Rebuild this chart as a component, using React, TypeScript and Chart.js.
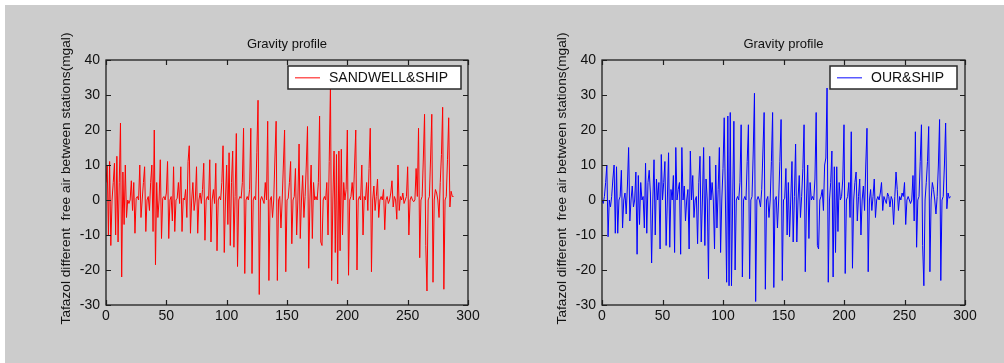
import React, { useEffect, useRef } from 'react';
import { Chart, registerables } from 'chart.js';

Chart.register(...registerables);

// Difference of free-air gravity between consecutive stations (mgal)
const sandwellShip: number[] = [
  5, 10, -10, 11, -13, 0, 5, 10.5, -10, 12.5,
  -12, 5, 22, -22, 8, -7, 10, -5, 0, -1,
  0, 5.5, -3, 5, -9.5, 0.5, 1, 0, 10, -5,
  0, 5, 9.5, -9, 0, 1, -3, 5, 10, -9,
  20, -18.5, 5, -5, 0, 11.5, -11, 0.5, 1, 0,
  2, 11, -11, 0, 1, -6, 9.5, -9, 0, 0.5,
  5, -1, 9.5, -9, 0.5, 0, 3, -5, 11, 15.5,
  -9.5, 0, 5, -3, 0, 9.5, -9.5, 0, 2, -1,
  3, 10.5, -11.5, 0, 1, 0, 11.5, -12, 0, 3,
  -1, 10.5, -14.5, 0, 1, 0, 5, 15.5, -15, 0,
  10, -7, 13.5, -13, 5, 14, -13.5, 1, 19, -19,
  0, 1, 0.5, 5, 20.5, -21, 0, 1, 0, 3,
  20.5, -21, 0, 1, 0, 13.5, 28.5, -27, 0, 1,
  0, -1, 5, 0, 22.5, -23, 0, 1, -5, 0,
  12, 22.5, -23, 0, 1, -8, 0, 10, 20, -20.5,
  0, 0.5, 5, 11, -12.5, 0, 1, 9, -10, 0,
  16, -11, 0, 7, -5, 1, 10, 21, -19.5, 0,
  10, -11, 5, 0, 1, 0, 5, 24, -12, -13,
  0, 1, 0, 5, -10, 11, 33, -23, 0, 14,
  -15, 13, -24, 14, -14.5, 14.5, -10, 5, 0, 3,
  20, -21.5, 0, 1, 5, 0, 10, 20, -20, 0,
  1, 0, 10, -10, 1, 0, 5, -3, 9, 20.5,
  -20.5, 0, 4, -3, 1, 6, -5, 0, 1, 0,
  3, -8.5, 0, 1, -1, 0, 2, 5.5, -2, 1,
  0, -5.5, 10, -3, 1, 0, 2, -1, 0, 1,
  9.5, -10, 0, 1, 0, -0.5, 0, 9, 1, 20.5,
  -16.5, 0, 1, 12, 24.5, -13, -26, 0, 1, 12,
  24.5, -23.5, 0, 3, 2, 0, -5, 5, 13, 26.5,
  -25.5, 0, 1, 11.5, 23.5, -2, 2.5, 1, 1,
];

const ourShip: number[] = [
  0, -1, 1, 5, 10, -10.5, 0, -2, 1, 6,
  10, -9.5, 9.5, -9.5, 0, 1, 8.5, -8, 0, 2,
  -4, 4, 15, -6, 0, 4, -2, 0, 8, -15.5,
  7, -7, 5, 0, 1, -8, 10.5, -9.5, 5, 8.5,
  2, -18, 0, 11.5, -10, 6, 0, 5, -14, 13,
  0, 5, 11, -13, 0, 13.5, -13.5, 3, 0, 7,
  -15, 15, 0, 3, 5, -15.5, 15, 0, 4, -6,
  0, 3, -14, 14, 0, 7, -5, 0, 1, -12.5,
  5, 12.5, -12, 0, 15, -13, 6, 0, -22.5, 12.5,
  0, 5, 0, -14, 10, -8, 3, 15, -15, 0,
  9, 23.5, 0, -23.5, 24, -24.5, 25, -24.5, 0, 22.5,
  -20, 0, 1, 0, 5, 21.5, -22, 0, 1, 0,
  11, 21.5, -22.5, 0, 1, 14, 30.5, -29, 0, 1,
  0, -2, 3, 14, 25, -25.5, 0, 1, -5, 0,
  11, 25, -25, 0, 1, -8, 0, 11, 23, -23,
  0, 0.5, 9, -10, 5, -10.5, 0, 11, -12, 1,
  16, -12, 0, 7, -5, 1, 9, 21.5, -20.5, 0,
  10, -11, 5, 0, 1, 0, 6, 25, -13, -14,
  0, 1, 3, -3, 10, 12, 32, -23.5, 0, 5,
  14, -22, 9.5, -15, 9.5, -9, 5, 0, 1, 6,
  21.5, -21, 0, 1, 5, -5, 19.5, -19.5, 0, 5,
  8, -6, 1, 6, -10, 0, 4, -3, 10, 20.5,
  -20.5, 0, 3, -3, 1, 6, -5, 0, 1, 0,
  2, 5, -3, 1, 0, -1, 2, 1, -2, 1,
  0, -7, 1, 8, 3, -3, 1, 0, 2, 1,
  5, -7, 0, 1, 0, -1, 0, 7, -6, 19.5,
  -13.5, 0, 1, 11, 21.5, -13, -24.5, 0, 5, 11,
  21, -20.5, 0, 5, 3, 0, -4, 1, 10, 23,
  -23, 0, 1, 10, 22, -2.5, 2, 0.5, 1,
];

const stationIndex: number[] = sandwellShip.map((_, i) => i);

const xTicks: number[] = [0, 50, 100, 150, 200, 250, 300];
const yTicks: number[] = [-30, -20, -10, 0, 10, 20, 30, 40];

const titleText = 'Gravity profile';
const yLabelText = 'Tafazol different  free air between stations(mgal)';

const FONT = '"Liberation Sans", Arial, Helvetica, sans-serif';

type PlotBox = { left: number; top: number; right: number; bottom: number };

function makeDecorPlugin(seriesLabel: string, sampleColor: string, legendRightGap: number) {
  return {
    id: 'matlabDecor',
    afterDraw(chart: any) {
      const { ctx, chartArea: a, scales } = chart;
      ctx.save();
      // frame
      ctx.strokeStyle = '#1e1e1e';
      ctx.lineWidth = 1.3;
      ctx.strokeRect(a.left, a.top, a.right - a.left, a.bottom - a.top);
      // inward ticks
      ctx.lineWidth = 1.2;
      const tl = 5;
      ctx.beginPath();
      for (const v of xTicks) {
        const px = Math.round(scales.x.getPixelForValue(v)) + 0.5;
        ctx.moveTo(px, a.bottom);
        ctx.lineTo(px, a.bottom - tl);
        ctx.moveTo(px, a.top);
        ctx.lineTo(px, a.top + tl);
      }
      for (const v of yTicks) {
        const py = Math.round(scales.y.getPixelForValue(v)) + 0.5;
        ctx.moveTo(a.left, py);
        ctx.lineTo(a.left + tl, py);
        ctx.moveTo(a.right, py);
        ctx.lineTo(a.right - tl, py);
      }
      ctx.stroke();
      // title
      ctx.fillStyle = '#111';
      ctx.font = `13px ${FONT}`;
      ctx.textAlign = 'center';
      ctx.textBaseline = 'alphabetic';
      ctx.fillText(titleText, (a.left + a.right) / 2, a.top - 12);
      // y label
      ctx.save();
      ctx.translate(a.left - 40, (a.top + a.bottom) / 2 - 4);
      ctx.rotate(-Math.PI / 2);
      ctx.font = `13.7px ${FONT}`;
      ctx.textBaseline = 'middle';
      ctx.textAlign = 'center';
      ctx.fillText(yLabelText, 0, 0);
      ctx.restore();
      // legend
      ctx.font = `14px ${FONT}`;
      const tw = ctx.measureText(seriesLabel).width;
      const bw = Math.round(41 + tw + 13);
      const bh = 23;
      const bx = Math.round(a.right - legendRightGap - bw);
      const by = Math.round(a.top + 6);
      ctx.fillStyle = '#ffffff';
      ctx.fillRect(bx, by, bw, bh);
      ctx.strokeStyle = '#2a2a2a';
      ctx.lineWidth = 1.5;
      ctx.strokeRect(bx, by, bw, bh);
      ctx.fillStyle = sampleColor;
      ctx.fillRect(bx + 7, by + 11, 25, 1.5);
      ctx.fillStyle = '#111';
      ctx.textAlign = 'left';
      ctx.textBaseline = 'middle';
      ctx.fillText(seriesLabel, bx + 41, by + 12);
      ctx.restore();
    },
  };
}

function GravityChart(props: {
  values: number[];
  color: string;
  sampleColor: string;
  seriesLabel: string;
  width: number;
  height: number;
  plot: PlotBox;
  legendRightGap: number;
  style: React.CSSProperties;
}) {
  const ref = useRef<HTMLCanvasElement | null>(null);
  useEffect(() => {
    const canvas = ref.current;
    if (!canvas) return;
    const { width: W, height: H, plot } = props;
    const X_AXIS_H = 30;
    const chart = new Chart(canvas, {
      type: 'line',
      data: {
        datasets: [
          {
            label: props.seriesLabel,
            data: props.values.map((v, i) => ({ x: stationIndex[i], y: v })),
            borderColor: props.color,
            borderWidth: 1,
            pointRadius: 0,
            tension: 0,
            fill: false,
          },
        ],
      },
      options: {
        responsive: false,
        animation: false,
        devicePixelRatio: 1,
        layout: {
          padding: {
            left: 0,
            top: plot.top,
            right: W - plot.right,
            bottom: H - plot.bottom - X_AXIS_H,
          },
        },
        plugins: {
          legend: { display: false },
          tooltip: { enabled: false },
          title: { display: false },
        },
        scales: {
          x: {
            type: 'linear',
            min: xTicks[0],
            max: xTicks[xTicks.length - 1],
            afterBuildTicks: (s: any) => {
              s.ticks = xTicks.map((v) => ({ value: v }));
            },
            afterFit: (s: any) => {
              s.height = X_AXIS_H;
            },
            grid: { display: false, drawTicks: false, tickLength: 0 },
            border: { display: false },
            ticks: {
              autoSkip: false,
              maxRotation: 0,
              padding: 3,
              color: '#111',
              font: { family: FONT, size: 14 },
              callback: (v: any) => String(v),
            },
          },
          y: {
            type: 'linear',
            min: yTicks[0],
            max: yTicks[yTicks.length - 1],
            afterBuildTicks: (s: any) => {
              s.ticks = yTicks.map((v) => ({ value: v }));
            },
            afterFit: (s: any) => {
              s.width = plot.left;
            },
            grid: { display: false, drawTicks: false, tickLength: 0 },
            border: { display: false },
            ticks: {
              autoSkip: false,
              padding: 6,
              color: '#111',
              font: { family: FONT, size: 14 },
              callback: (v: any) => String(v),
            },
          },
        },
      },
      plugins: [makeDecorPlugin(props.seriesLabel, props.sampleColor, props.legendRightGap)],
    } as any);
    return () => chart.destroy();
  }, []);
  return <canvas ref={ref} width={props.width} height={props.height} style={props.style} />;
}

export default function App() {
  return (
    <div
      style={{
        position: 'fixed',
        left: 0,
        top: 0,
        width: 1004,
        height: 363,
        background: '#ffffff',
        overflow: 'hidden',
      }}
    >
      <div
        style={{
          position: 'absolute',
          left: 5,
          top: 5,
          right: 0,
          bottom: 0,
          background: '#cccccc',
        }}
      />
      <GravityChart
        values={sandwellShip}
        color="#ff0000"
        sampleColor="#ff5a5a"
        seriesLabel="SANDWELL&SHIP"
        width={497}
        height={358}
        plot={{ left: 101, top: 55, right: 463, bottom: 300 }}
        legendRightGap={7}
        style={{ position: 'absolute', left: 5, top: 5 }}
      />
      <GravityChart
        values={ourShip}
        color="#0000ff"
        sampleColor="#5a5aff"
        seriesLabel="OUR&SHIP"
        width={502}
        height={358}
        plot={{ left: 100, top: 55, right: 463, bottom: 300 }}
        legendRightGap={8}
        style={{ position: 'absolute', left: 502, top: 5 }}
      />
    </div>
  );
}
